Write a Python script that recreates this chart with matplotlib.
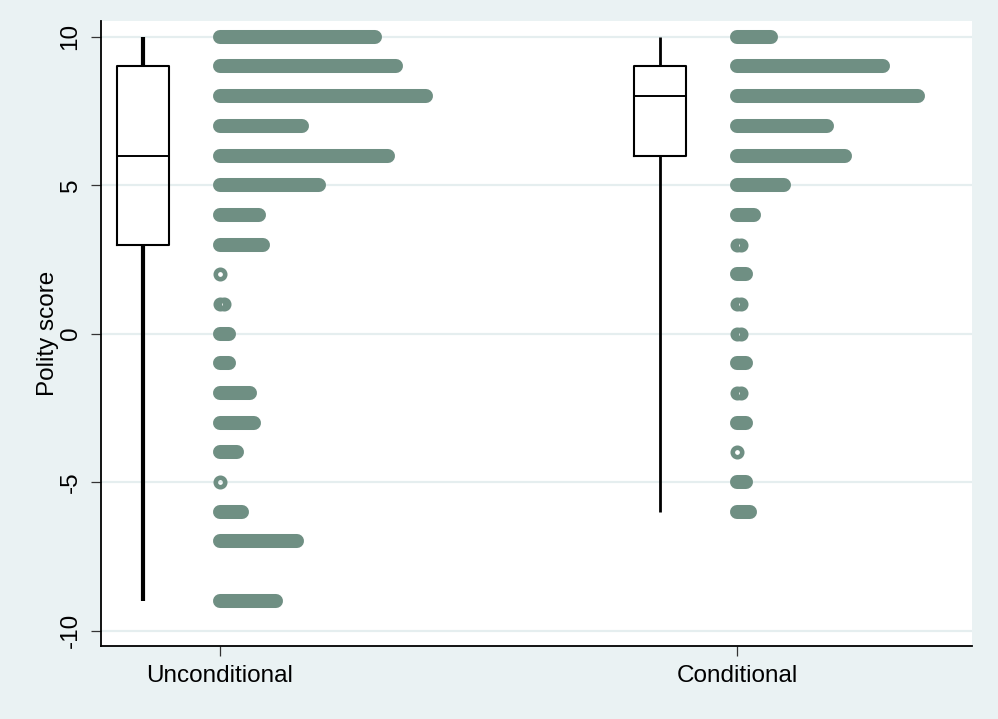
import matplotlib
matplotlib.use("Agg")
import matplotlib.pyplot as plt

scores = [10, 9, 8, 7, 6, 5, 4, 3, 2, 1, 0, -1, -2, -3, -4, -5, -6, -7, -8, -9]
uncond_counts = [37, 42, 49, 20, 40, 24, 10, 11, 1, 2, 3, 3, 8, 9, 5, 1, 6, 19, 0, 14]
cond_counts = [9, 35, 43, 22, 26, 12, 5, 2, 3, 2, 2, 3, 2, 3, 1, 3, 4, 0, 0, 0]

groups = ["Unconditional", "Conditional"]
# box summaries: lower whisker, q1, median, q3, upper whisker
box_low = [-9, -6]
box_q1 = [3, 6]
box_med = [6, 8]
box_q3 = [9, 9]
box_high = [10, 10]

bg = "#EAF2F3"
dot_color = "#6F8F83"

plt.rcParams["font.family"] = ["Liberation Sans", "DejaVu Sans"]

fig = plt.figure(figsize=(9.98, 7.19), dpi=100, facecolor=bg)
ax = fig.add_axes([101 / 998, 1 - 646 / 719, (972 - 101) / 998, (646 - 21) / 719])
ax.set_facecolor("white")

positions = [1, 2]
box_offset = -0.149
dx = 4.3 / 517  # spacing between stacked dots, in data units
ms, mew = 6.8, 3.3
outer = ms + mew

# dot strips: few dots as rings, longer stacks as one rounded band
for pos, counts in zip(positions, [uncond_counts, cond_counts]):
    for s, n in zip(scores, counts):
        if n == 0:
            continue
        xs = [pos + i * dx for i in range(n)]
        if n <= 2:
            ax.plot(xs, [s] * n, linestyle="none", marker="o", ms=ms, mew=mew,
                    mfc="none", mec=dot_color, zorder=3)
        else:
            ax.plot([xs[0], xs[-1]], [s, s], color=dot_color, linewidth=outer,
                    solid_capstyle="round", zorder=3)

# boxes
stats = []
for i in range(2):
    stats.append(dict(whislo=box_low[i], q1=box_q1[i], med=box_med[i],
                      q3=box_q3[i], whishi=box_high[i]))
bp = ax.bxp(stats, positions=[p + box_offset for p in positions], widths=0.1,
            showcaps=False, showfliers=False, patch_artist=False,
            boxprops=dict(color="black", linewidth=1.5),
            medianprops=dict(color="black", linewidth=1.4),
            whiskerprops=dict(color="black", linewidth=2.0), manage_ticks=False)
for w in bp["whiskers"][:2]:
    w.set_linewidth(3.0)
    w.set_solid_capstyle("butt")
for w in bp["whiskers"][2:]:
    w.set_solid_capstyle("butt")

ax.set_xlim(1 + (101 - 220) / 517, 1 + (972 - 220) / 517)
ax.set_ylim(-10.52, 10.53)

ax.set_yticks([-10, -5, 0, 5, 10])
ax.set_yticklabels(["-10", "-5", "0", "5", "10"], rotation=90, va="center")
ax.set_xticks(positions)
ax.set_xticklabels(groups)
ax.tick_params(axis="both", labelsize=17.5, length=7, width=0.9, color="#333333", pad=7)
ax.set_ylabel("Polity score", fontsize=17.5, labelpad=0.5)

ax.grid(True, axis="y", color="#E5EEEF", linewidth=1.6, zorder=0)
ax.set_axisbelow(True)
for side in ["top", "right"]:
    ax.spines[side].set_visible(False)
for side in ["left", "bottom"]:
    ax.spines[side].set_linewidth(1.3)
    ax.spines[side].set_color("black")

fig.savefig("out.png", dpi=100, facecolor=bg)
